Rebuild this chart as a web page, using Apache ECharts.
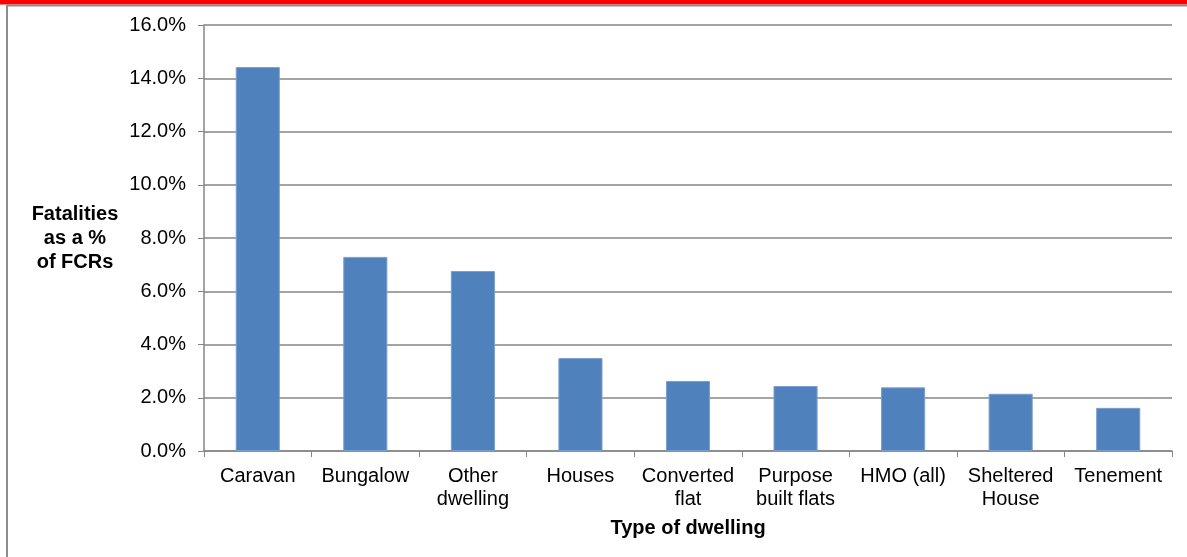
<!DOCTYPE html>
<html>
<head>
<meta charset="utf-8">
<script src="https://cdn.jsdelivr.net/npm/echarts@6/dist/echarts.min.js"></script>
<style>
html,body{margin:0;padding:0;background:#fff;}
#chart{width:1187px;height:557px;}
</style>
</head>
<body>
<div id="chart"></div>
<script>
var categories = ['Caravan', 'Bungalow', 'Other\ndwelling', 'Houses', 'Converted\nflat', 'Purpose\nbuilt flats', 'HMO (all)', 'Sheltered\nHouse', 'Tenement'];
var fatalityRates = [14.42, 7.29, 6.76, 3.49, 2.63, 2.44, 2.39, 2.15, 1.62];
var yTicks = { min: 0, max: 16, interval: 2 };
var yAxisTitle = 'Fatalities\nas a %\nof FCRs';
var xAxisTitle = 'Type of dwelling';

var FONT = '"Liberation Sans", Arial, sans-serif';
var chart = echarts.init(document.getElementById('chart'), null, { renderer: 'canvas' });
chart.setOption({
  animation: false,
  backgroundColor: '#ffffff',
  grid: { left: 204, right: 15, top: 25, bottom: 106, containLabel: false },
  graphic: [
    { type: 'rect', shape: { x: 0, y: 0, width: 1187, height: 4.5 }, style: { fill: '#ff0000' }, silent: true },
    { type: 'line', shape: { x1: 6, y1: 5.5, x2: 1187, y2: 5.5 }, style: { stroke: '#8c8c8c', lineWidth: 2 }, silent: true },
    { type: 'line', shape: { x1: 7, y1: 5, x2: 7, y2: 557 }, style: { stroke: '#8c8c8c', lineWidth: 2 }, silent: true }
  ],
  xAxis: {
    type: 'category',
    data: categories,
    name: xAxisTitle,
    nameLocation: 'middle',
    nameGap: 77,
    nameTextStyle: { fontFamily: FONT, fontSize: 20, fontWeight: 'bold', color: '#000', verticalAlign: 'middle' },
    axisLine: { lineStyle: { color: '#868686', width: 1.5 } },
    axisTick: { show: true, length: 6, lineStyle: { color: '#868686' } },
    axisLabel: { interval: 0, margin: 14, fontFamily: FONT, fontSize: 20, color: '#000', lineHeight: 23 }
  },
  yAxis: {
    type: 'value',
    min: yTicks.min,
    max: yTicks.max,
    interval: yTicks.interval,
    name: yAxisTitle,
    nameLocation: 'middle',
    nameRotate: 0,
    nameGap: 129,
    nameTextStyle: { fontFamily: FONT, fontSize: 20, fontWeight: 'bold', color: '#000', align: 'center', verticalAlign: 'middle', lineHeight: 24 },
    axisLine: { show: true, lineStyle: { color: '#868686', width: 1.5 } },
    axisTick: { show: true, length: 6, lineStyle: { color: '#868686' } },
    axisLabel: { margin: 18, fontFamily: FONT, fontSize: 20, color: '#000', formatter: function (v) { return v.toFixed(1) + '%'; } },
    splitLine: { show: true, lineStyle: { color: '#868686', width: 1.5 } }
  },
  series: [{
    type: 'bar',
    data: fatalityRates,
    barCategoryGap: '59%',
    itemStyle: { color: '#4F81BD', borderColor: '#7A9FD0', borderWidth: 1 }
  }]
});
</script>
</body>
</html>
